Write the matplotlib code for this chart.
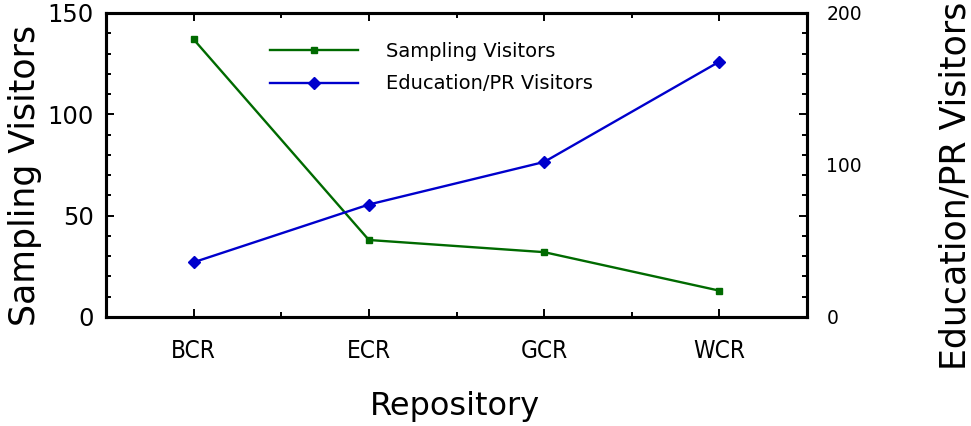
import numpy as np
import matplotlib
matplotlib.use("Agg")
import matplotlib.pyplot as plt
from matplotlib.ticker import MultipleLocator

repositorios = ["BCR", "ECR", "GCR", "WCR"]
sampling = [137, 38, 32, 13]
education = [36, 74, 102, 168]

x = np.arange(len(repositorios))

fig = plt.figure(figsize=(9.71, 4.26), dpi=100)
ax = fig.add_axes([106/971, 1 - 317/426, 701/971, 304/426])
ax2 = ax.twinx()

l1, = ax.plot(x, sampling, color="#006a00", lw=1.7, marker="s", ms=4.5,
              label="Sampling Visitors")
l2, = ax2.plot(x, education, color="#0000cc", lw=1.7, marker="D", ms=6,
               label="Education/PR Visitors")

ax.set_xlim(-0.5, 3.5)
ax.set_ylim(0, 150)
ax2.set_ylim(0, 200)

ax.set_xticks(x)
ax.set_xticklabels(repositorios, fontsize=17.5, family="DejaVu Sans",
                   fontstretch="condensed")
ax.xaxis.set_minor_locator(MultipleLocator(0.5))
ax.set_yticks([0, 50, 100, 150])
ax.yaxis.set_minor_locator(MultipleLocator(10))
ax.tick_params(axis="y", labelsize=17.5)
ax.tick_params(which="both", direction="in", top=True, right=True, width=1.4)
ax.tick_params(which="major", length=6)
ax.tick_params(which="minor", length=3.5)
ax.tick_params(axis="x", which="major", pad=16)
ax.tick_params(axis="y", which="major", pad=9)

ax2.set_yticks([0, 100, 200])
ax2.tick_params(axis="y", length=0, labelsize=13.5, pad=14)

for a in (ax, ax2):
    for s in a.spines.values():
        s.set_linewidth(2.2)

fig.text(455/971, 1 - 407/426, "Repository", fontsize=23, ha="center", va="center")
fig.text(25/971, 1 - 175/426, "Sampling Visitors", fontsize=25, rotation=90,
         ha="center", va="center")
fig.text(955/971, 1 - 370/426, "Education/PR Visitors", fontsize=25, rotation=90,
         ha="center", va="bottom")

leg = ax.legend(handles=[l1, l2], loc="upper left", bbox_to_anchor=(0.234, 0.905),
                frameon=False, fontsize=14, handlelength=4.5, handletextpad=1.45,
                labelspacing=0.7, borderpad=0, borderaxespad=0)

fig.savefig("out.png", dpi=100)
